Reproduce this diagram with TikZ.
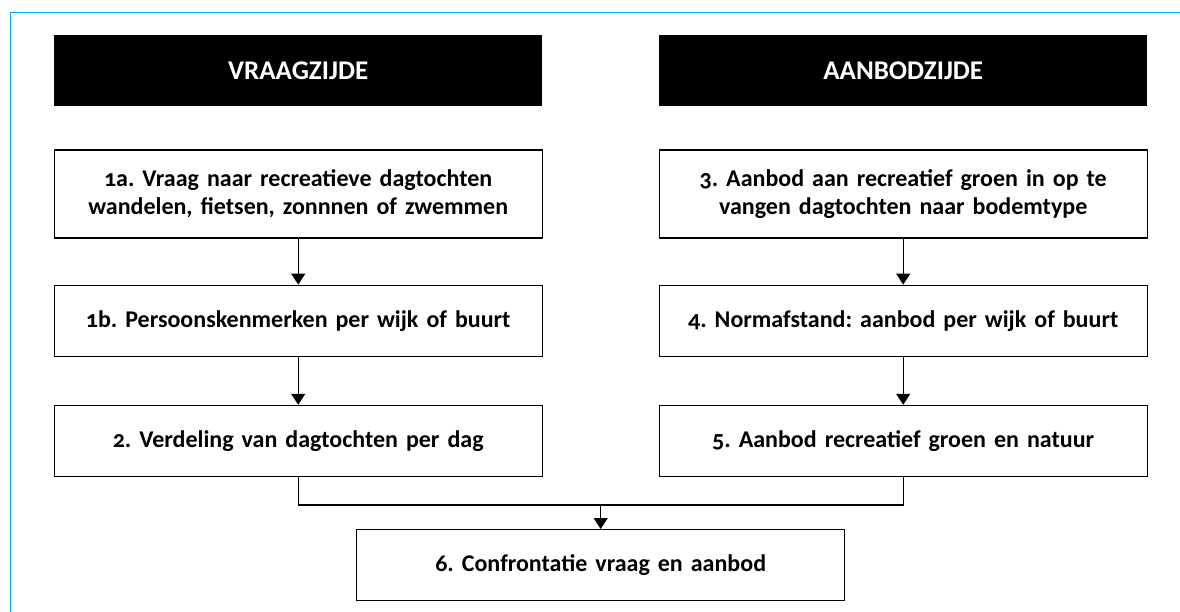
\documentclass[tikz,border=0pt]{standalone}
\usepackage{fontspec}
\setmainfont{Carlito}[Numbers=OldStyle]
\usetikzlibrary{positioning,arrows.meta,calc}
\definecolor{fcyan}{HTML}{00AEEF}
\frenchspacing
\begin{document}
\begin{tikzpicture}[
  kop/.style={fill=black, text=white, minimum width=488pt, minimum height=71pt, inner sep=0pt, font=\fontsize{27}{30}\selectfont\bfseries},
  stap/.style={draw, line width=1.2pt, minimum width=488pt, minimum height=71pt, text width=470pt, align=center, inner sep=0pt, font=\fontsize{24}{28}\selectfont\bfseries},
  arr/.style={-{Triangle[length=11pt,width=14pt]}, line width=1.2pt},
  node distance=46pt]
 \useasboundingbox (0,0) rectangle (1180pt,-612pt);
 \draw[fcyan, line width=1.5pt] (10.5pt,-612pt) -- (10.5pt,-12.5pt) -- (1180pt,-12.5pt);
 \node[kop, anchor=north west] (vk) at (54pt,-35pt) {VRAAGZIJDE};
 \node[kop, anchor=north west] (ak) at (659pt,-35pt) {AANBODZIJDE};
 \node[stap, below=43pt of vk, minimum height=88pt] (v1a) {1a. Vraag naar recreatieve dagtochten\\ wandelen, fietsen, zonnnen of zwemmen};
 \node[stap, below=of v1a] (v1b) {1b. Persoonskenmerken per wijk of buurt};
 \node[stap, below=48pt of v1b] (v2) {2. Verdeling van dagtochten per dag};
 \node[stap, below=43pt of ak, minimum height=88pt] (a3) {3. Aanbod aan recreatief groen in op te\\ vangen dagtochten naar bodemtype};
 \node[stap, below=of a3] (a4) {4. Normafstand: aanbod per wijk of buurt};
 \node[stap, below=48pt of a4] (a5) {5. Aanbod recreatief groen en natuur};
 \foreach \u/\v in {v1a/v1b,v1b/v2,a3/a4,a4/a5} \draw[arr] (\u) -- (\v);
 \coordinate (j) at ($(v2.south)!0.5!(a5.south)+(0,-28pt)$);
 \node[stap, below=24pt of j] (c6) {6. Confrontatie vraag en aanbod};
 \draw[line width=1.2pt] (v2.south) |- (j) -| (a5.south);
 \draw[arr] (j) -- (c6);
\end{tikzpicture}
\end{document}
